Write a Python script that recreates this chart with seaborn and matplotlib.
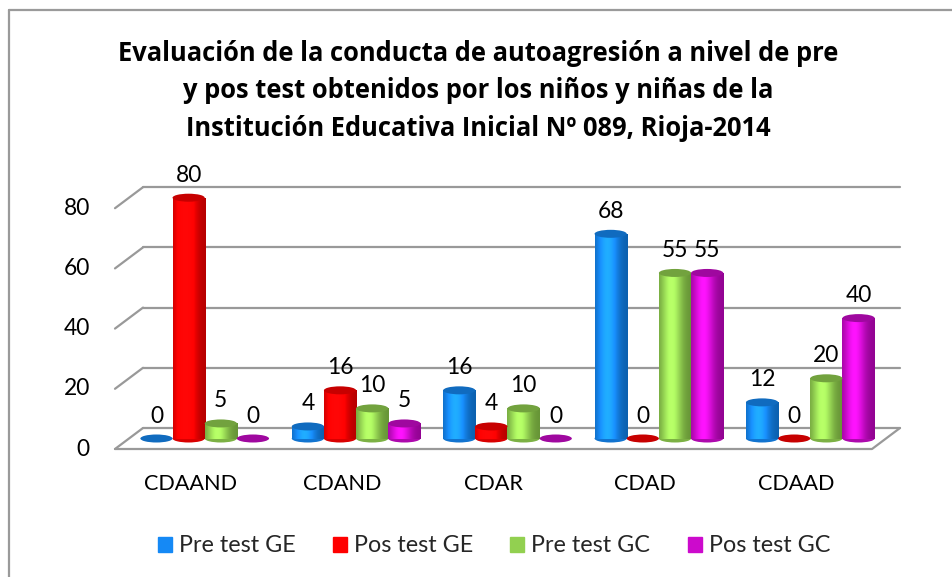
import numpy as np
import pandas as pd
import seaborn as sns
import matplotlib
matplotlib.use("Agg")
import matplotlib.pyplot as plt
from matplotlib.patches import Ellipse, Rectangle
from matplotlib.lines import Line2D
from matplotlib.colors import to_rgb

# ---------------- data ----------------
categories = ["CDAAND", "CDAND", "CDAR", "CDAD", "CDAAD"]
series = ["Pre test GE", "Pos test GE", "Pre test GC", "Pos test GC"]
pre_test_ge = [0, 4, 16, 68, 12]
pos_test_ge = [80, 16, 4, 0, 0]
pre_test_gc = [5, 10, 10, 55, 20]
pos_test_gc = [0, 5, 0, 55, 40]
yticks = [0, 20, 40, 60, 80]
colors = ["#1589F5", "#FF0000", "#92D050", "#CC0ACC"]
title_lines = ["Evaluación de la conducta de autoagresión a nivel de pre",
               "y pos test obtenidos por los niños y niñas de la",
               "Institución Educativa Inicial Nº 089, Rioja-2014"]

df = pd.DataFrame({
    "categoria": categories * 4,
    "serie": [s for s in series for _ in categories],
    "valor": pre_test_ge + pos_test_ge + pre_test_gc + pos_test_gc,
})

sns.set_theme(style="white")
plt.rcParams["font.family"] = ["Lato", "DejaVu Sans"]
FS = 15.6

W, H = 953, 577
fig = plt.figure(figsize=(W / 100, H / 100), dpi=100)

# frame (top and left border)
fig.add_artist(Line2D([9 / W, 9 / W], [0, 1 - 10 / H], color="#9A9A9A", lw=1.6))
fig.add_artist(Line2D([9 / W, 1], [1 - 10 / H, 1 - 10 / H], color="#9A9A9A", lw=1.6))

# axes geometry (pixels from top-left)
y0 = 438.5      # pixel of value 0 (mid depth)
s = 3.01        # px per unit
ylo, yhi = -12, 92
top_px = y0 - yhi * s
bot_px = y0 - ylo * s
left_px, right_px = 129, 886
ax = fig.add_axes([left_px / W, 1 - bot_px / H, (right_px - left_px) / W,
                   (bot_px - top_px) / H])
ax.patch.set_alpha(0)

sns.barplot(data=df, x="categoria", y="valor", hue="serie", palette=colors,
            saturation=1, width=0.85, ax=ax, legend=False, errorbar=None,
            linewidth=0, zorder=3)

ax.set_xlim(-0.5, 4.5)
ax.set_ylim(ylo, yhi)
for sp in ax.spines.values():
    sp.set_visible(False)
ax.set_xticks([])
ax.set_yticks([])
ax.set_xlabel("")
ax.set_ylabel("")

# perspective offsets in data units
unit_px = (right_px - left_px) / 5.0
dx = 14 / unit_px
dy = 10.5 / s
grid_c = "#999999"
for v in yticks:
    ax.plot([-0.5 - dx, -0.5 + dx], [v - dy, v + dy], color=grid_c, lw=1.6,
            clip_on=False, zorder=1)
    ax.plot([-0.5 + dx, 4.5 + dx], [v + dy, v + dy], color=grid_c, lw=1.6,
            clip_on=False, zorder=1)
    ax.annotate(str(v), (-0.5 - dx, v - dy), xytext=(-18, 0),
                textcoords="offset points", ha="right", va="center",
                fontsize=FS + 0.8, color="black", annotation_clip=False)
# floor
ax.plot([-0.5 - dx, 4.5 - dx, 4.5 + dx], [-dy, -dy, dy], color=grid_c, lw=1.6,
        clip_on=False, zorder=1)

# category labels
for i, c in enumerate(categories):
    ax.annotate(c, (i - dx, 0), xytext=(0, -33), textcoords="offset points",
                ha="center", va="center", fontsize=FS, color="black",
                annotation_clip=False)

# cylinder styling
e_h = 8 / s
prof_x = np.linspace(0, 1, 64)
shade = 0.72 + 0.5 * np.exp(-((prof_x - 0.38) / 0.32) ** 2)
for cont, col in zip(ax.containers, colors):
    base = np.array(to_rgb(col))
    dark = np.clip(base * 0.78, 0, 1)
    for bar, val in zip(cont.patches, cont.datavalues):
        x, w = bar.get_x(), bar.get_width()
        cx = x + w / 2
        h = bar.get_height()
        if h > 0:
            grad = np.clip(base[None, :] * shade[:, None] + 0.08 * (shade[:, None] - 0.9), 0, 1)
            img = grad[None, :, :]
            ax.add_patch(Ellipse((cx, 0), w, e_h, color=base * 0.85, zorder=3, lw=0))
            im = ax.imshow(img, extent=[x, x + w, 0, h], aspect="auto",
                           zorder=4, interpolation="bilinear")
            im.set_clip_path(bar)
            ax.add_patch(Ellipse((cx, h), w, e_h, color=dark, zorder=5, lw=0))
        else:
            ax.add_patch(Ellipse((cx, 0), w, e_h, color=dark, zorder=5, lw=0))
        ax.annotate(f"{val:g}", (cx, h), xytext=(0, 11.5),
                    textcoords="offset points", ha="center", va="baseline",
                    fontsize=FS + 0.8, color="black", annotation_clip=False)

ax.set_xlim(-0.5, 4.5)
ax.set_ylim(ylo, yhi)

# title (one text per line, baselines matched)
for line, base_px in zip(title_lines, [61, 98.5, 136]):
    fig.text(478 / W, 1 - base_px / H, line, ha="center", va="baseline",
             fontsize=18.4, fontweight="bold", color="black",
             family=["Open Sans", "DejaVu Sans"])

# legend
handles = [Rectangle((0, 0), 1, 1, color=c) for c in colors]
fig.legend(handles, series, loc="center", bbox_to_anchor=(494 / W, 1 - 546 / H),
           ncol=4, frameon=False, fontsize=16.8, handlelength=0.6,
           handleheight=0.6, handletextpad=0.3, columnspacing=1.6)

fig.savefig("out.png", dpi=100)
